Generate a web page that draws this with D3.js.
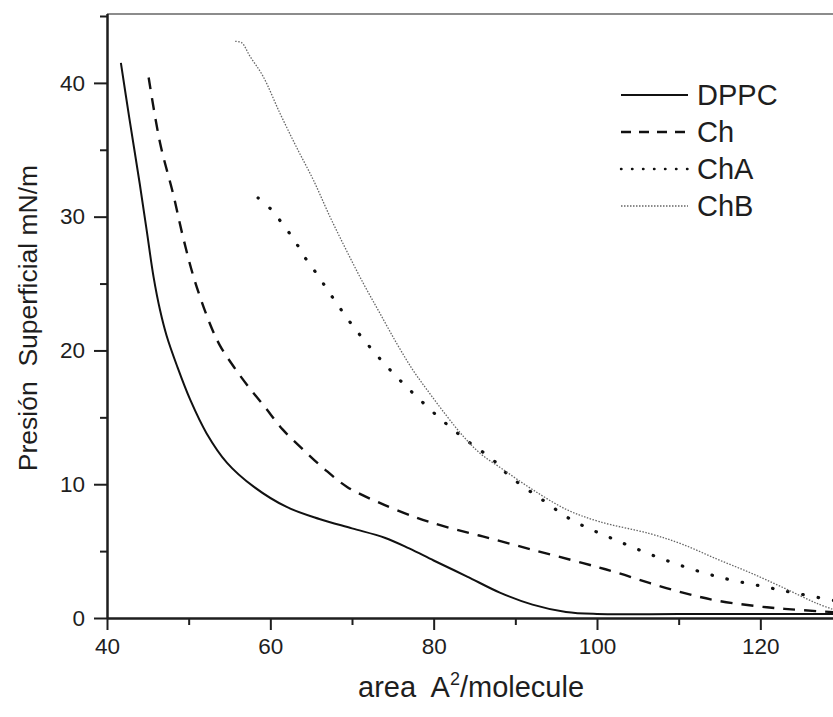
<!DOCTYPE html>
<html>
<head>
<meta charset="utf-8">
<script src="https://cdn.jsdelivr.net/npm/d3@7"></script>
<style>
  body { margin: 0; background: #fff; }
  svg { display: block; font-family: "Liberation Sans", Arial, sans-serif; }
  text { white-space: pre; }
</style>
</head>
<body>
<svg id="chart" width="833" height="717"></svg>
<script>
// data
const seriesNames = ["DPPC", "Ch", "ChA", "ChB"];

const dppcArea = [41.7, 42.7, 44.0, 44.9, 45.7, 46.5, 47.3, 48.6, 50.2, 52.2, 54.7, 58.0, 62.0, 66.0, 70.0, 74.0, 77.0, 80.0, 84.1, 88.1, 92.1, 96.2, 100, 110, 120, 130];
const dppcPressure = [41.5, 37.5, 32.5, 28.8, 25.5, 23.0, 21.1, 18.8, 16.3, 13.8, 11.6, 9.8, 8.3, 7.4, 6.7, 6.0, 5.2, 4.3, 3.1, 1.9, 1.0, 0.45, 0.3, 0.3, 0.3, 0.3];

const chArea = [45.1, 46.5, 48.1, 49.3, 50.7, 52.6, 53.8, 55.5, 57.3, 59.3, 61.5, 64.0, 66.5, 69.4, 73.4, 77.9, 81.0, 86.0, 92.1, 98.3, 102.4, 106.5, 110.5, 114.7, 120.8, 124.8, 130];
const chPressure = [40.4, 35.5, 31.7, 28.5, 25.3, 22.0, 20.4, 18.8, 17.3, 15.8, 14.1, 12.6, 11.2, 9.8, 8.6, 7.5, 6.9, 6.1, 5.1, 4.1, 3.4, 2.6, 1.9, 1.3, 0.8, 0.6, 0.4];

const chaArea = [58.5, 60.0, 61.2, 62.3, 63.4, 64.4, 65.6, 67.7, 69.9, 72.4, 75.2, 78.0, 81.0, 84.0, 87.3, 89.3, 93.4, 97.0, 102.4, 108.5, 114.7, 120.8, 124.8, 130];
const chaPressure = [31.4, 30.6, 29.7, 28.8, 27.8, 26.8, 25.8, 23.9, 22.0, 20.1, 18.2, 16.5, 14.8, 13.3, 11.8, 10.6, 8.8, 7.3, 5.8, 4.3, 3.1, 2.3, 1.8, 1.2];

const chbArea = [55.7, 56.5, 57.5, 59.1, 61.2, 63.2, 65.3, 67.3, 69.3, 71.4, 73.4, 75.5, 77.5, 79.5, 81.6, 83.6, 85.7, 88.5, 92.1, 96.3, 100.3, 106.5, 110.5, 114.7, 118.7, 122.7, 126.9, 130];
const chbPressure = [43.1, 43.0, 42.0, 40.5, 37.7, 35.2, 32.7, 30.0, 27.5, 25.0, 22.8, 20.5, 18.5, 16.8, 15.1, 13.6, 12.3, 11.1, 9.6, 8.1, 7.2, 6.3, 5.5, 4.4, 3.4, 2.3, 1.1, 0.4];

const xTicks = [40, 60, 80, 100, 120];
const xMinorTicks = [50, 70, 90, 110, 130];
const yTicks = [0, 10, 20, 30, 40];
const yMinorTicks = [5, 15, 25, 35, 45];

const svg = d3.select("#chart");
const width = 833, height = 717;
const margin = { top: 16, left: 107, bottom: 99 };

const x = d3.scaleLinear().domain([40, 130]).range([margin.left, 842]);
const y = d3.scaleLinear().domain([0, 45]).range([height - margin.bottom, margin.top]);

const ink = "#1e1e1e";
const tickFont = "22.5px";

// top frame line
svg.append("line")
    .attr("x1", margin.left).attr("x2", width)
    .attr("y1", 14).attr("y2", 14)
    .attr("stroke", "#666").attr("stroke-width", 1.5);

// minor ticks
svg.append("g")
    .attr("transform", `translate(0,${y(0)})`)
    .call(d3.axisBottom(x).tickValues(xMinorTicks).tickSize(7).tickFormat(""))
    .call(g => g.select(".domain").remove())
    .selectAll("line").attr("stroke", ink).attr("stroke-width", 2);

svg.append("g")
    .attr("transform", `translate(${margin.left},0)`)
    .call(d3.axisLeft(y).tickValues(yMinorTicks).tickSize(7).tickFormat(""))
    .call(g => g.select(".domain").remove())
    .selectAll("line").attr("stroke", ink).attr("stroke-width", 2);

// x axis
const xAxis = svg.append("g")
    .attr("transform", `translate(0,${y(0)})`)
    .call(d3.axisBottom(x).tickValues(xTicks).tickSize(12).tickSizeOuter(0).tickPadding(8));
xAxis.select(".domain").attr("stroke", ink).attr("stroke-width", 2.5);
xAxis.selectAll("line").attr("stroke", ink).attr("stroke-width", 2);
xAxis.selectAll("text")
    .style("font-size", tickFont)
    .style("font-family", "'Liberation Sans', Arial, sans-serif")
    .attr("fill", ink);

// y axis
const yAxis = svg.append("g")
    .attr("transform", `translate(${margin.left},0)`)
    .call(d3.axisLeft(y).tickValues(yTicks).tickSize(13).tickSizeOuter(0).tickPadding(9));
yAxis.select(".domain")
    .attr("d", `M0.5,${y(0)}V14`)
    .attr("stroke", ink).attr("stroke-width", 2.5);
yAxis.selectAll("line").attr("stroke", ink).attr("stroke-width", 2);
yAxis.selectAll("text")
    .style("font-size", tickFont)
    .style("font-family", "'Liberation Sans', Arial, sans-serif")
    .attr("fill", ink);

// curves
const styles = {
    DPPC: { stroke: "#111", width: 2, dash: null, cap: "butt" },
    Ch:   { stroke: "#111", width: 2.4, dash: "12,9", cap: "butt" },
    ChA:  { stroke: "#111", width: 3.2, dash: "0.5,15", cap: "round" },
    ChB:  { stroke: "#666", width: 1.3, dash: "1.5,1.5", cap: "butt" }
};

const seriesData = {
    DPPC: d3.zip(dppcArea, dppcPressure),
    Ch: d3.zip(chArea, chPressure),
    ChA: d3.zip(chaArea, chaPressure),
    ChB: d3.zip(chbArea, chbPressure)
};

const line = d3.line()
    .x(d => x(d[0]))
    .y(d => y(d[1]))
    .curve(d3.curveCatmullRom.alpha(0.5));

seriesNames.forEach(name => {
    const s = styles[name];
    svg.append("path")
        .datum(seriesData[name])
        .attr("d", line)
        .attr("fill", "none")
        .attr("stroke", s.stroke)
        .attr("stroke-width", s.width)
        .attr("stroke-dasharray", s.dash)
        .attr("stroke-linecap", s.cap);
});

// legend
const legendDash = { DPPC: null, Ch: "10,8", ChA: "0.5,10.5", ChB: "1.5,1.5" };
const legend = svg.append("g");
seriesNames.forEach((name, i) => {
    const s = styles[name];
    const ly = 95 + i * 37;
    legend.append("line")
        .attr("x1", 621).attr("x2", 688)
        .attr("y1", ly).attr("y2", ly)
        .attr("stroke", s.stroke)
        .attr("stroke-width", name === "ChA" ? 2.4 : s.width)
        .attr("stroke-dasharray", legendDash[name])
        .attr("stroke-linecap", s.cap);
    legend.append("text")
        .attr("x", 697)
        .attr("y", ly + 10)
        .text(name)
        .attr("fill", ink)
        .style("font-size", "29px");
});

// axis titles
svg.append("text")
    .attr("text-anchor", "middle")
    .attr("transform", "rotate(-90)")
    .attr("x", -318)
    .attr("y", 37)
    .text("Presión  Superficial mN/m")
    .attr("fill", ink)
    .style("font-size", "26.5px");

const xTitle = svg.append("text")
    .attr("x", 358)
    .attr("y", 697)
    .attr("fill", ink)
    .style("font-size", "29px");
xTitle.append("tspan").text("area  A");
xTitle.append("tspan").attr("dy", -12).style("font-size", "18px").text("2");
xTitle.append("tspan").attr("dy", 12).text("/molecule");
</script>
</body>
</html>
